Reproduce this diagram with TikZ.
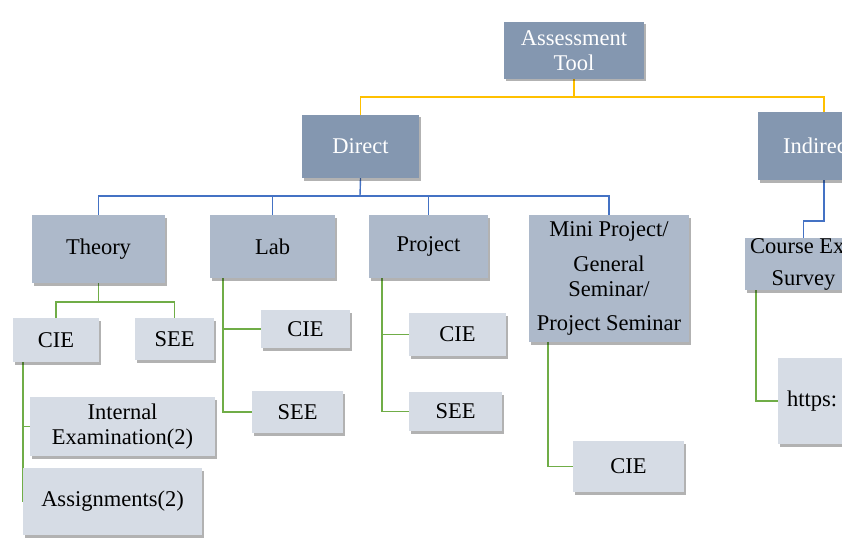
\documentclass[tikz,border=0pt]{standalone}
\usepackage{fontspec}
\setmainfont{Liberation Serif}
\usetikzlibrary{shadows,backgrounds}
\definecolor{cdark}{HTML}{8497B0}
\definecolor{cmid}{HTML}{ADB9CA}
\definecolor{clight}{HTML}{D6DCE5}
\definecolor{cyel}{HTML}{FFC000}
\definecolor{cblu}{HTML}{4472C4}
\definecolor{cgrn}{HTML}{70AD47}
\tikzset{
  tbox/.style={inner sep=0pt, align=center, font=\fontsize{22.5}{25}\selectfont,
    drop shadow={shadow xshift=2pt, shadow yshift=-2.5pt, fill=black, opacity=0.3}},
  darkbox/.style={tbox, fill=cdark, text=white},
  midbox/.style={tbox, fill=cmid, text=black},
  lightbox/.style={tbox, fill=clight, text=black},
  yel/.style={draw=cyel, line width=1.4pt},
  blu/.style={draw=cblu, line width=1.4pt},
  grn/.style={draw=cgrn, line width=1.4pt},
}
\begin{document}
\begin{tikzpicture}[x=1pt,y=-1pt]
\path[use as bounding box] (0,0) rectangle (842,540);
\clip (0,0) rectangle (842,540);
% level 0/1
\node[darkbox, minimum width=140pt, minimum height=57pt] (tool) at (574,50.5) {Assessment\\Tool};
\node[darkbox, minimum width=117pt, minimum height=63pt] (direct) at (360.5,146.5) {Direct};
\node[darkbox, minimum width=120pt, minimum height=68pt] (indirect) at (818,146) {Indirect};
% level 2
\node[midbox, minimum width=133pt, minimum height=68pt] (theory) at (98.5,249) {Theory};
\node[midbox, minimum width=125pt, minimum height=63pt] (lab) at (272.5,246.5) {Lab};
\node[midbox, minimum width=119pt, minimum height=63pt] (project) at (428.5,246.5) {Project};
\node[midbox, minimum width=160pt, minimum height=127pt] (mini) at (609,278.5) {Mini Project/\\[10pt]General\\Seminar/\\[9pt]Project Seminar};
\node[midbox, minimum width=117pt, minimum height=52pt] (course) at (803.5,264) {Course Exit\\[7pt]Survey};
% level 3
\node[lightbox, minimum width=86pt, minimum height=44pt] (tcie) at (56,340) {CIE};
\node[lightbox, minimum width=79pt, minimum height=42pt] (tsee) at (174.5,339) {SEE};
\node[lightbox, minimum width=185pt, minimum height=59pt] (internal) at (122.5,426.5) {Internal\\Examination(2)};
\node[lightbox, minimum width=179pt, minimum height=67pt] (assign) at (112.5,501.5) {Assignments(2)};
\node[lightbox, minimum width=89pt, minimum height=38pt] (lcie) at (305.5,329) {CIE};
\node[lightbox, minimum width=91pt, minimum height=42pt] (lsee) at (297.5,412) {SEE};
\node[lightbox, minimum width=97pt, minimum height=43pt] (pcie) at (457.5,334.5) {CIE};
\node[lightbox, minimum width=93pt, minimum height=39pt] (psee) at (455.5,411.5) {SEE};
\node[lightbox, minimum width=111pt, minimum height=51pt] (mcie) at (628.5,466.5) {CIE};
\node[lightbox, minimum width=122pt, minimum height=86pt, text width=104pt, align=left] (https) at (839,401) {https:};
% connectors
\coordinate (ybus) at (576,97);
\coordinate (bbus) at (360,196);
\coordinate (ib) at (803.5,221);
\coordinate (tb) at (98.5,302);
\begin{scope}[on background layer]
\draw[yel] (tool.south) -- (tool.south |- ybus) -| (direct.north);
\draw[yel] (tool.south |- ybus) -| ([xshift=6pt]indirect.north);
\draw[blu] (direct.south) -- (bbus);
\draw[blu] (theory.north) |- (bbus) -| (mini.north);
\draw[blu] (lab.north) -- (lab.north |- bbus);
\draw[blu] (project.north) -- (project.north |- bbus);
\draw[blu] ([xshift=6pt]indirect.south) |- (ib) -- (course.north);
\draw[grn] (theory.south) -- (tb);
\draw[grn] (tcie.north) |- (tb) -| (tsee.north);
\draw[grn] ([xshift=-33pt]tcie.south) |- (internal.west);
\draw[grn] ([xshift=-33pt]tcie.south) |- ([xshift=1pt]assign.west);
\draw[grn] ([xshift=-49.5pt]lab.south) |- (lcie.west);
\draw[grn] ([xshift=-49.5pt]lab.south) |- (lsee.west);
\draw[grn] ([xshift=-46.5pt]project.south) |- (pcie.west);
\draw[grn] ([xshift=-46.5pt]project.south) |- (psee.west);
\draw[grn] ([xshift=-61pt]mini.south) |- (mcie.west);
\draw[grn] ([xshift=-47.5pt]course.south) |- (https.west);
\end{scope}
\end{tikzpicture}
\end{document}
